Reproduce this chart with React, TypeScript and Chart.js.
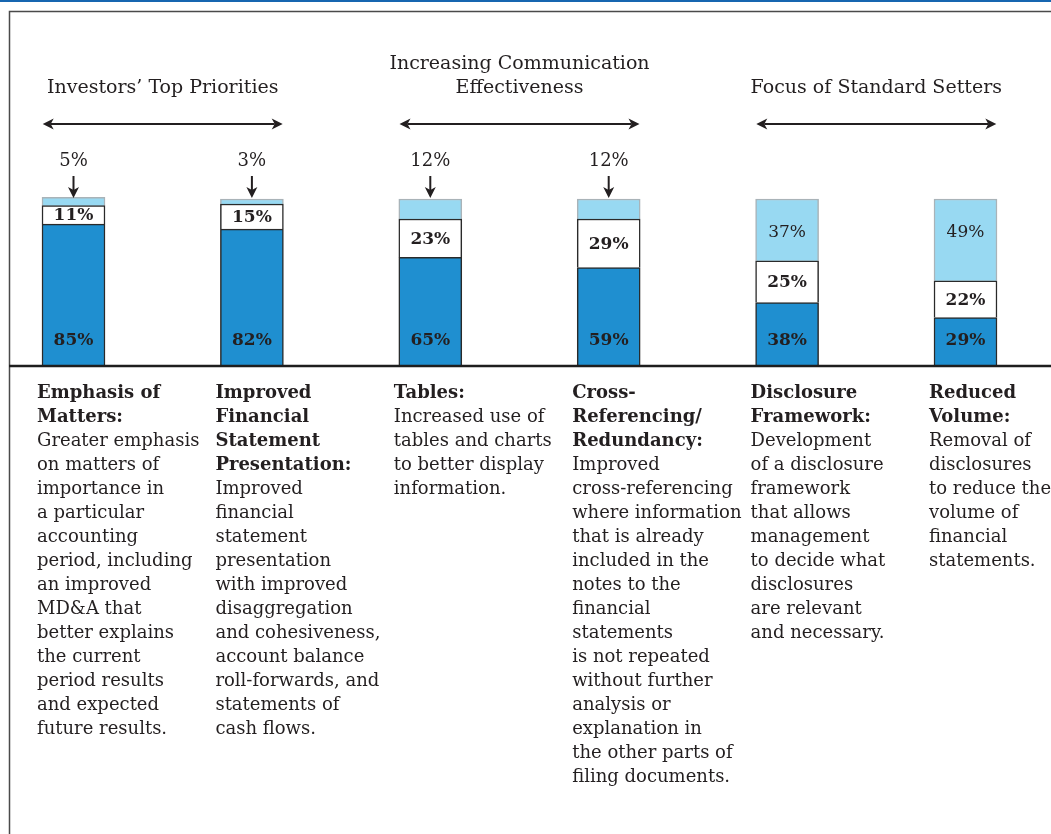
import React, { useEffect, useRef } from "react";
import { Chart, registerables } from "chart.js";

Chart.register(...registerables);

const categories = [
  "Emphasis of Matters",
  "Improved Financial Statement Presentation",
  "Tables",
  "Cross-Referencing/Redundancy",
  "Disclosure Framework",
  "Reduced Volume",
];
const bottomValues = [85, 82, 65, 59, 38, 29];
const middleValues = [11, 15, 23, 29, 25, 22];
const topValues = [5, 3, 12, 12, 37, 49];

const groupTitles = [
  ["Investors’ Top Priorities"],
  ["Increasing Communication", "Effectiveness"],
  ["Focus of Standard Setters"],
];

const headLines = [
  ["Emphasis of", "Matters:"],
  ["Improved", "Financial", "Statement", "Presentation:"],
  ["Tables:"],
  ["Cross-", "Referencing/", "Redundancy:"],
  ["Disclosure", "Framework:"],
  ["Reduced", "Volume:"],
];

const bodyLines = [
  ["Greater emphasis", "on matters of", "importance in", "a particular", "accounting", "period, including", "an improved", "MD&A that", "better explains", "the current", "period results", "and expected", "future results."],
  ["Improved", "financial", "statement", "presentation", "with improved", "disaggregation", "and cohesiveness,", "account balance", "roll-forwards, and", "statements of", "cash flows."],
  ["Increased use of", "tables and charts", "to better display", "information."],
  ["Improved", "cross-referencing", "where information", "that is already", "included in the", "notes to the", "financial", "statements", "is not repeated", "without further", "analysis or", "explanation in", "the other parts of", "filing documents."],
  ["Development", "of a disclosure", "framework", "that allows", "management", "to decide what", "disclosures", "are relevant", "and necessary."],
  ["Removal of", "disclosures", "to reduce the", "volume of", "financial", "statements."],
];

const W = 1051;
const H = 834;
const SERIF = '"DejaVu Serif", "Liberation Serif", serif';
const INK = "#231f20";

function arrowHead(ctx: CanvasRenderingContext2D, tipX: number, tipY: number, dir: "left" | "right" | "down") {
  ctx.beginPath();
  if (dir === "left") {
    ctx.moveTo(tipX, tipY);
    ctx.lineTo(tipX + 11, tipY - 5.5);
    ctx.lineTo(tipX + 8, tipY);
    ctx.lineTo(tipX + 11, tipY + 5.5);
  } else if (dir === "right") {
    ctx.moveTo(tipX, tipY);
    ctx.lineTo(tipX - 11, tipY - 5.5);
    ctx.lineTo(tipX - 8, tipY);
    ctx.lineTo(tipX - 11, tipY + 5.5);
  } else {
    ctx.moveTo(tipX, tipY);
    ctx.lineTo(tipX - 5.5, tipY - 11);
    ctx.lineTo(tipX, tipY - 8);
    ctx.lineTo(tipX + 5.5, tipY - 11);
  }
  ctx.closePath();
  ctx.fill();
}

const overlay = {
  id: "overlay",
  afterDatasetsDraw(chart: any) {
    const ctx: CanvasRenderingContext2D = chart.ctx;
    const area = chart.chartArea;
    const m0 = chart.getDatasetMeta(0);
    const m1 = chart.getDatasetMeta(1);
    const m2 = chart.getDatasetMeta(2);
    ctx.save();

    // top blue rule
    ctx.fillStyle = "#1766b0";
    ctx.fillRect(0, 0, W, 2);

    // frame
    ctx.strokeStyle = "#4a4a4a";
    ctx.lineWidth = 1.5;
    ctx.beginPath();
    ctx.moveTo(9.5, H);
    ctx.lineTo(9.5, 11.5);
    ctx.lineTo(W, 11.5);
    ctx.stroke();

    // baseline
    ctx.strokeStyle = "#1e1e1e";
    ctx.lineWidth = 2.5;
    ctx.beginPath();
    ctx.moveTo(9, area.bottom);
    ctx.lineTo(W, area.bottom);
    ctx.stroke();

    ctx.fillStyle = INK;
    ctx.strokeStyle = INK;
    ctx.textBaseline = "middle";

    // group titles and double arrows
    groupTitles.forEach((lines, g) => {
      const a = m0.data[2 * g];
      const b = m0.data[2 * g + 1];
      const cx = (a.x + b.x) / 2;
      ctx.font = `19px ${SERIF}`;
      ctx.textAlign = "center";
      const startY = 88 - (lines.length - 1) * 24;
      lines.forEach((t, i) => ctx.fillText(t, cx, startY + i * 24));
      const x1 = cx - 120;
      const x2 = cx + 120;
      ctx.lineWidth = 2;
      ctx.beginPath();
      ctx.moveTo(x1 + 8, 124);
      ctx.lineTo(x2 - 8, 124);
      ctx.stroke();
      arrowHead(ctx, x1, 124, "left");
      arrowHead(ctx, x2, 124, "right");
    });

    // segment labels
    ctx.textAlign = "center";
    m0.data.forEach((el: any, i: number) => {
      ctx.font = `bold 17px ${SERIF}`;
      ctx.fillStyle = INK;
      ctx.fillText(`${bottomValues[i]}%`, el.x, area.bottom - 25);
    });
    m1.data.forEach((el: any, i: number) => {
      ctx.font = `bold 17px ${SERIF}`;
      ctx.fillText(`${middleValues[i]}%`, el.x, (el.y + el.base) / 2 + 1);
    });
    m2.data.forEach((el: any, i: number) => {
      const v = topValues[i];
      if (v >= 20) {
        ctx.font = `17px ${SERIF}`;
        ctx.fillText(`${v}%`, el.x, el.y + 34);
      } else {
        ctx.font = `18px ${SERIF}`;
        ctx.fillText(`${v}%`, el.x, area.top - 38);
        ctx.lineWidth = 2;
        ctx.beginPath();
        ctx.moveTo(el.x, area.top - 23);
        ctx.lineTo(el.x, area.top - 6);
        ctx.stroke();
        arrowHead(ctx, el.x, el.top !== undefined ? area.top - 1 : area.top - 1, "down");
      }
    });

    // description columns
    ctx.textAlign = "left";
    m0.data.forEach((el: any, i: number) => {
      const x = el.x - el.width / 2 - 5;
      let y = 393;
      ctx.font = `bold 18px ${SERIF}`;
      headLines[i].forEach((t) => {
        ctx.fillText(t, x, y);
        y += 24;
      });
      ctx.font = `18px ${SERIF}`;
      bodyLines[i].forEach((t) => {
        ctx.fillText(t, x, y);
        y += 24;
      });
    });

    ctx.restore();
  },
};

export default function App() {
  const ref = useRef<HTMLCanvasElement | null>(null);
  useEffect(() => {
    if (!ref.current) return;
    const chart = new Chart(ref.current, {
      type: "bar",
      data: {
        labels: categories,
        datasets: [
          {
            label: "bottom",
            data: bottomValues,
            backgroundColor: "#1f8fd0",
            borderColor: "#2a2a2a",
            borderWidth: 1.5,
            barThickness: 63,
            clip: false as any,
          },
          {
            label: "middle",
            data: middleValues,
            backgroundColor: "#ffffff",
            borderColor: "#2a2a2a",
            borderWidth: 1.5,
            barThickness: 63,
            clip: false as any,
          },
          {
            label: "top",
            data: topValues,
            backgroundColor: "#98d9f2",
            borderColor: "#a9b3b8",
            borderWidth: 1.5,
            barThickness: 63,
            clip: false as any,
          },
        ],
      },
      options: {
        responsive: false,
        animation: false,
        layout: { padding: { left: 73.5, right: 85.5, top: 199, bottom: 468 } },
        plugins: { legend: { display: false }, tooltip: { enabled: false } },
        scales: {
          x: { type: "category", stacked: true, display: false, offset: false, grid: { display: false } },
          y: { stacked: true, display: false, min: 0, max: 100, grid: { display: false } },
        },
      },
      plugins: [overlay],
    });
    return () => chart.destroy();
  }, []);
  return (
    <div style={{ position: "absolute", left: 0, top: 0, width: W, height: H, background: "#fff" }}>
      <canvas ref={ref} width={W} height={H} style={{ display: "block" }} />
    </div>
  );
}
